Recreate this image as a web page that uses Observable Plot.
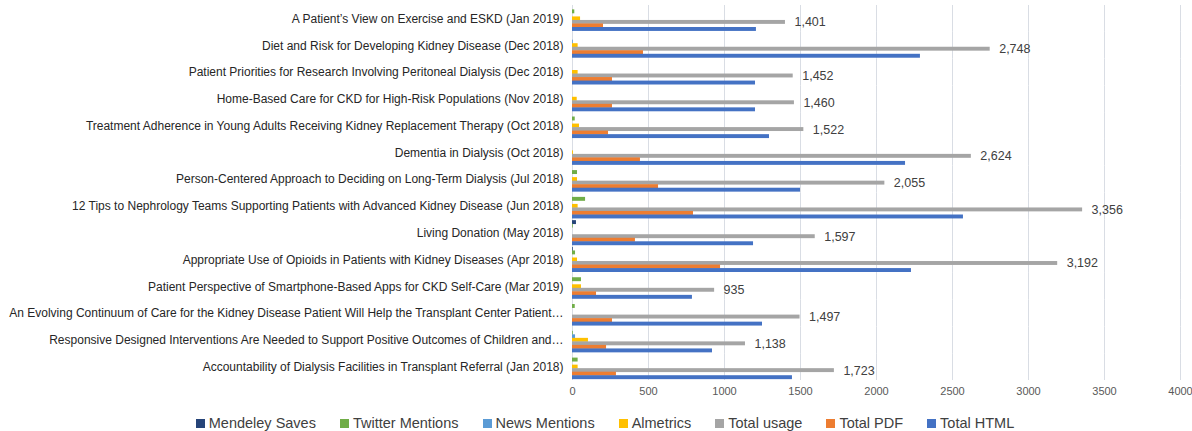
<!DOCTYPE html>
<html>
<head>
<meta charset="utf-8">
<script src="https://cdn.jsdelivr.net/npm/d3@7"></script>
<script src="https://cdn.jsdelivr.net/npm/@observablehq/plot@0.6"></script>
<style>
  body { margin: 0; background: #fff; font-family: "Liberation Sans", Arial, sans-serif; }
  #legend { display: flex; justify-content: center; gap: 24px; font-size: 14.5px; color: #404040; margin-top: 9px; line-height: 18px; padding-left: 18px; }
  #legend span.item { display: inline-flex; align-items: center; }
  #legend span.sw { width: 9px; height: 9px; display: inline-block; margin-right: 4px; }
</style>
</head>
<body>
<div id="chart"></div>
<div id="legend"></div>
<script>
const categories = [
  "A Patient’s View on Exercise and ESKD (Jan 2019)",
  "Diet and Risk for Developing Kidney Disease (Dec 2018)",
  "Patient Priorities for Research Involving Peritoneal Dialysis (Dec 2018)",
  "Home-Based Care for CKD for High-Risk Populations (Nov 2018)",
  "Treatment Adherence in Young Adults Receiving Kidney Replacement Therapy (Oct 2018)",
  "Dementia in Dialysis (Oct 2018)",
  "Person-Centered Approach to Deciding on Long-Term Dialysis (Jul 2018)",
  "12 Tips to Nephrology Teams Supporting Patients with Advanced Kidney Disease (Jun 2018)",
  "Living Donation (May 2018)",
  "Appropriate Use of Opioids in Patients with Kidney Diseases (Apr 2018)",
  "Patient Perspective of Smartphone-Based Apps for CKD Self-Care (Mar 2019)",
  "An Evolving Continuum of Care for the Kidney Disease Patient Will Help the Transplant Center Patient…",
  "Responsive Designed Interventions Are Needed to Support Positive Outcomes of Children and…",
  "Accountability of Dialysis Facilities in Transplant Referral (Jan 2018)"
];
const seriesNames = ["Mendeley Saves", "Twitter Mentions", "News Mentions", "Almetrics", "Total usage", "Total PDF", "Total HTML"];
const seriesColors = ["#264478", "#70AD47", "#5B9BD5", "#FFC000", "#A5A5A5", "#ED7D31", "#4472C4"];

const mendeleySaves   = [0, 0, 0, 0, 0, 0, 0, 0, 26, 5, 0, 0, 0, 0];
const twitterMentions = [15, 0, 0, 0, 18, 0, 33, 86, 5, 20, 59, 18, 5, 37];
const newsMentions    = [0, 5, 0, 0, 0, 0, 0, 0, 0, 0, 0, 0, 20, 0];
const almetrics       = [53, 37, 37, 31, 46, 6, 33, 37, 0, 33, 59, 0, 105, 37];
const totalUsage      = [1401, 2748, 1452, 1460, 1522, 2624, 2055, 3356, 1597, 3192, 935, 1497, 1138, 1723];
const totalPDF        = [204, 467, 263, 263, 237, 447, 566, 796, 414, 974, 158, 263, 224, 289];
const totalHTML       = [1210, 2289, 1204, 1204, 1296, 2191, 1500, 2572, 1191, 2230, 789, 1250, 921, 1447];
const xTicks = [0, 500, 1000, 1500, 2000, 2500, 3000, 3500, 4000];

const seriesValues = [mendeleySaves, twitterMentions, newsMentions, almetrics, totalUsage, totalPDF, totalHTML];
const rows = [];
categories.forEach((c, i) => {
  seriesNames.forEach((s, j) => rows.push({cat: c, series: s, value: seriesValues[j][i]}));
});

const chart = Plot.plot({
  width: 1192,
  height: 405,
  marginLeft: 572,
  marginRight: 12,
  marginTop: 5,
  marginBottom: 25,
  style: {fontFamily: "'Liberation Sans', Arial, sans-serif", fontSize: "11px", color: "#595959"},
  x: {domain: [0, 4000], ticks: xTicks, tickFormat: d => String(d), tickSize: 0, tickPadding: 7, label: null},
  fy: {domain: categories, padding: 0, round: false, label: null, axis: null},
  y: {domain: seriesNames, paddingInner: 0, paddingOuter: 0.3, round: false, axis: null},
  color: {domain: seriesNames, range: seriesColors},
  marks: [
    Plot.gridX(xTicks, {stroke: "#d9dde4", strokeOpacity: 1}),
    Plot.ruleX([0], {stroke: "#d9dde4"}),
    Plot.barX(rows, {x: "value", y: "series", fy: "cat", fill: "series", insetTop: -0.2, insetBottom: -0.2}),
    Plot.text(rows.filter(d => d.series === "Total usage"), {
      x: "value", y: "series", fy: "cat", text: d => d3.format(",")(d.value),
      dx: 9, textAnchor: "start", fill: "#404040", fontSize: 12.5
    }),
    Plot.axisFy({anchor: "left", tickSize: 0, tickPadding: 9, fontSize: 12, color: "#262626", label: null})
  ]
});
document.getElementById("chart").appendChild(chart);

const legend = document.getElementById("legend");
seriesNames.forEach((s, j) => {
  const item = document.createElement("span");
  item.className = "item";
  item.innerHTML = `<span class="sw" style="background:${seriesColors[j]}"></span>${s}`;
  legend.appendChild(item);
});
</script>
</body>
</html>
